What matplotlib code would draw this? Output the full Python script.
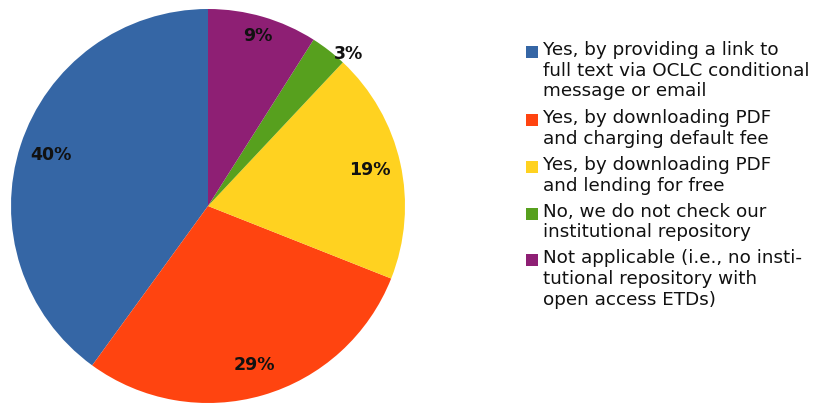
import numpy as np
import matplotlib.pyplot as plt
from matplotlib.patches import Rectangle

# data
labels = [
    "Yes, by providing a link to\nfull text via OCLC conditional\nmessage or email",
    "Yes, by downloading PDF\nand charging default fee",
    "Yes, by downloading PDF\nand lending for free",
    "No, we do not check our\ninstitutional repository",
    "Not applicable (i.e., no insti-\ntutional repository with\nopen access ETDs)",
]
values = [40, 29, 19, 3, 9]
pct_text = ["40%", "29%", "19%", "3%", "9%"]
colors = ["#3566A5", "#FF4410", "#FFD220", "#57A01E", "#8E1F74"]
label_radius = [0.84, 0.84, 0.84, 1.05, 0.9]
label_shift = [0, 0, 0, -5, 0]  # degrees

W, H = 825, 403
fig = plt.figure(figsize=(W / 100, H / 100), dpi=100)
fig.patch.set_facecolor("white")

cx, cy, r = 208, 206, 197
ax = fig.add_axes([(cx - r) / W, (H - cy - r) / H, 2 * r / W, 2 * r / H])
wedges, _ = ax.pie(values, colors=colors, startangle=90, counterclock=True,
                   radius=1, wedgeprops=dict(linewidth=0))
ax.set_xlim(-1, 1)
ax.set_ylim(-1, 1)
ax.set_aspect("equal")
ax.axis("off")

for w, t, lr, sh in zip(wedges, pct_text, label_radius, label_shift):
    mid = np.deg2rad((w.theta1 + w.theta2) / 2 + sh)
    ax.text(lr * np.cos(mid), lr * np.sin(mid), t, ha="center", va="center",
            fontsize=12.5, fontweight="bold", color="#111111")

# legend, drawn by hand so the marker sits at the first line
y = 52
line_h = 21.6
for lab, c in zip(labels, colors):
    fig.patches.append(Rectangle((526 / W, (H - y - 6) / H), 12 / W, 12 / H,
                                 transform=fig.transFigure, facecolor=c,
                                 edgecolor="none"))
    fig.text(543 / W, (H - y + 11) / H, lab, ha="left", va="top", fontsize=13.2,
             color="#111111", linespacing=1.19,
             transform=fig.transFigure)
    y += line_h * (lab.count("\n") + 1) + 3.5

fig.savefig("out.png", dpi=100)
